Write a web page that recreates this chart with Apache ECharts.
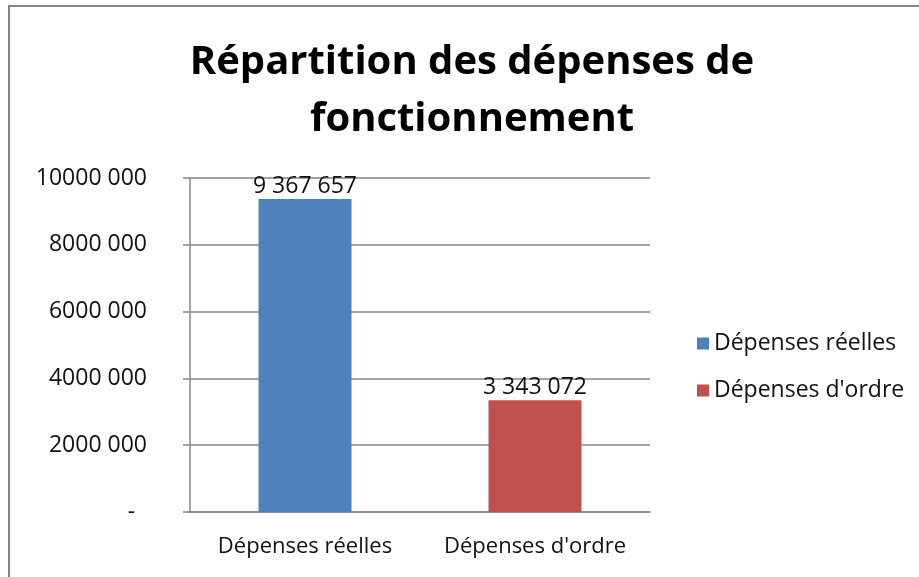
<!DOCTYPE html>
<html>
<head>
<meta charset="utf-8">
<script src="https://cdn.jsdelivr.net/npm/echarts@6/dist/echarts.min.js"></script>
<style>
  html, body { margin: 0; padding: 0; background: #fff; }
  #frame { position: absolute; left: 8px; top: 5px; width: 950px; height: 600px;
           border-left: 2px solid #868686; border-top: 2px solid #868686; }
  #main { position: absolute; left: 0; top: 0; width: 919px; height: 577px; }
</style>
</head>
<body>
<div id="frame"></div>
<div id="main"></div>
<script>
var categories = ['Dépenses réelles', "Dépenses d'ordre"];
var seriesNames = ['Dépenses réelles', "Dépenses d'ordre"];
var values = [9367657, 3343072];
var colors = ['#4F81BD', '#C0504D'];

function spaced(n) {
    return String(n).replace(/\B(?=(\d{3})+(?!\d))/g, ' ');
}

var myChart = echarts.init(document.getElementById('main'));
var font = '"Open Sans", "Liberation Sans", sans-serif';

// one series per category, stacked so every bar stays centred
var series = [];
for (var i = 0; i < seriesNames.length; i++) {
    var d = categories.map(function (c, j) { return j === i ? values[i] : '-'; });
    series.push({
        name: seriesNames[i],
        type: 'bar',
        stack: 'all',
        barWidth: 93,
        data: d,
        itemStyle: { color: colors[i] },
        label: {
            show: true,
            position: 'top',
            distance: 1,
            color: '#111',
            fontFamily: font,
            fontSize: 23,
            formatter: function (p) { return spaced(p.value); }
        }
    });
}

var option = {
    animation: false,
    title: {
        text: 'Répartition des dépenses de\nfonctionnement',
        left: 467,
        top: 29,
        textAlign: 'center',
        textStyle: {
            fontFamily: font,
            fontWeight: 'bold',
            fontSize: 40,
            lineHeight: 57,
            color: '#000'
        }
    },
    legend: {
        orient: 'vertical',
        left: 692,
        top: 327,
        itemWidth: 12,
        itemHeight: 12,
        itemGap: 24,
        icon: 'rect',
        textStyle: { fontFamily: font, fontSize: 23, color: '#111' },
        data: seriesNames
    },
    grid: { left: 190, right: 269, top: 178, bottom: 65 },
    xAxis: {
        type: 'category',
        data: categories,
        axisLine: { lineStyle: { color: '#868686', width: 1.5 } },
        axisTick: { length: 7, lineStyle: { color: '#868686', width: 1.5 } },
        axisLabel: { interval: 0, hideOverlap: false, margin: 24, color: '#111', fontFamily: font, fontSize: 22 }
    },
    yAxis: {
        type: 'value',
        min: 0,
        max: 10000000,
        interval: 2000000,
        axisLine: { show: true, lineStyle: { color: '#868686', width: 1.5 } },
        axisTick: { show: true, length: 7, lineStyle: { color: '#868686', width: 1.5 } },
        splitLine: { lineStyle: { color: '#868686', width: 1.5 } },
        axisLabel: {
            margin: 43,
            color: '#111',
            fontFamily: font,
            fontSize: 23,
            formatter: function (v) {
                if (v === 0) return '-  ';
                return (v / 1000) + ' 000';
            }
        }
    },
    series: series
};
option && myChart.setOption(option);
</script>
</body>
</html>
